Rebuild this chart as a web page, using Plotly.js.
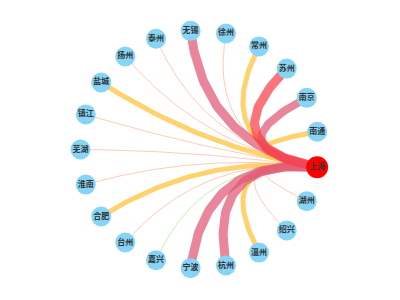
<!DOCTYPE html>
<html>
<head>
<meta charset="utf-8">
<script src="https://cdn.plot.ly/plotly-3.0.1.min.js"></script>
<style>html,body{margin:0;padding:0;background:#fff;}#chart{width:400px;height:300px;}</style>
</head>
<body>
<div id="chart"></div>
<script>
// Hub city and connected cities (clockwise from the hub on screen)
const hub = '上海';
const cities = ['湖州','绍兴','温州','杭州','宁波','嘉兴','台州','合肥','淮南','芜湖','镇江','盐城','扬州','泰州','无锡','徐州','常州','苏州','南京','南通'];
const linkValues = [10,10,40,80,80,5,10,40,10,10,10,40,10,10,80,10,40,100,70,40];

// circular layout (computed, in pixel-like data units)
const cx = 199.5, cy = 149.5, R = 119;
const allNodes = [hub].concat(cities);
const n = allNodes.length;
const step = 360 / n;
const pos = allNodes.map((name, i) => {
  const a = (step / 2 + i * step) * Math.PI / 180;
  return [cx + R * Math.cos(a), cy + R * Math.sin(a)];
});

function edgeStyle(v) {
  if (v >= 90) return {color: 'rgba(250,62,72,0.72)', width: 9};
  if (v >= 75) return {color: 'rgba(224,88,116,0.72)', width: 9};
  if (v >= 60) return {color: 'rgba(224,88,116,0.72)', width: 8};
  if (v >= 30) return {color: 'rgba(255,195,62,0.75)', width: 5};
  if (v >= 8) return {color: 'rgba(255,160,125,0.55)', width: 1};
  return {color: 'rgba(150,235,130,0.6)', width: 1};
}

const traces = [];
const order = cities.map((c, i) => i).sort((a, b) => linkValues[a] - linkValues[b]);
const curveness = 0.3;
const f = curveness * 3;
order.forEach(i => {
  const p1 = pos[0], p2 = pos[i + 1];
  const mx = (p1[0] + p2[0]) / 2, my = (p1[1] + p2[1]) / 2;
  const c1 = [cx * f + mx * (1 - f), cy * f + my * (1 - f)];
  const xs = [], ys = [];
  for (let k = 0; k <= 60; k++) {
    const t = k / 60, u = 1 - t;
    xs.push(u * u * p1[0] + 2 * u * t * c1[0] + t * t * p2[0]);
    ys.push(u * u * p1[1] + 2 * u * t * c1[1] + t * t * p2[1]);
  }
  const s = edgeStyle(linkValues[i]);
  traces.push({type: 'scatter', mode: 'lines', x: xs, y: ys,
    line: {color: s.color, width: s.width, shape: 'linear'},
    hoverinfo: 'skip', showlegend: false});
});

traces.push({
  type: 'scatter', mode: 'markers+text',
  x: pos.slice(1).map(p => p[0]), y: pos.slice(1).map(p => p[1]),
  text: cities, textposition: 'middle center',
  textfont: {family: 'Noto Sans CJK SC', size: 8, color: '#333', weight: 'bold'},
  marker: {size: 20, color: '#87d5f6', line: {width: 0}},
  hoverinfo: 'text', showlegend: false
});
traces.push({
  type: 'scatter', mode: 'markers+text',
  x: [pos[0][0]], y: [pos[0][1]],
  text: [hub], textposition: 'middle center',
  textfont: {family: 'Noto Sans CJK SC', size: 8, color: '#333', weight: 'bold'},
  marker: {size: 22, color: '#ff0000', line: {width: 0}},
  hoverinfo: 'text', showlegend: false
});

const layout = {
  width: 400, height: 300,
  margin: {l: 0, r: 0, t: 0, b: 0},
  paper_bgcolor: '#fff', plot_bgcolor: '#fff',
  xaxis: {range: [0, 400], visible: false, fixedrange: true},
  yaxis: {range: [300, 0], visible: false, fixedrange: true},
  showlegend: false
};
Plotly.newPlot('chart', traces, layout, {displayModeBar: false, staticPlot: true});
</script>
</body>
</html>
